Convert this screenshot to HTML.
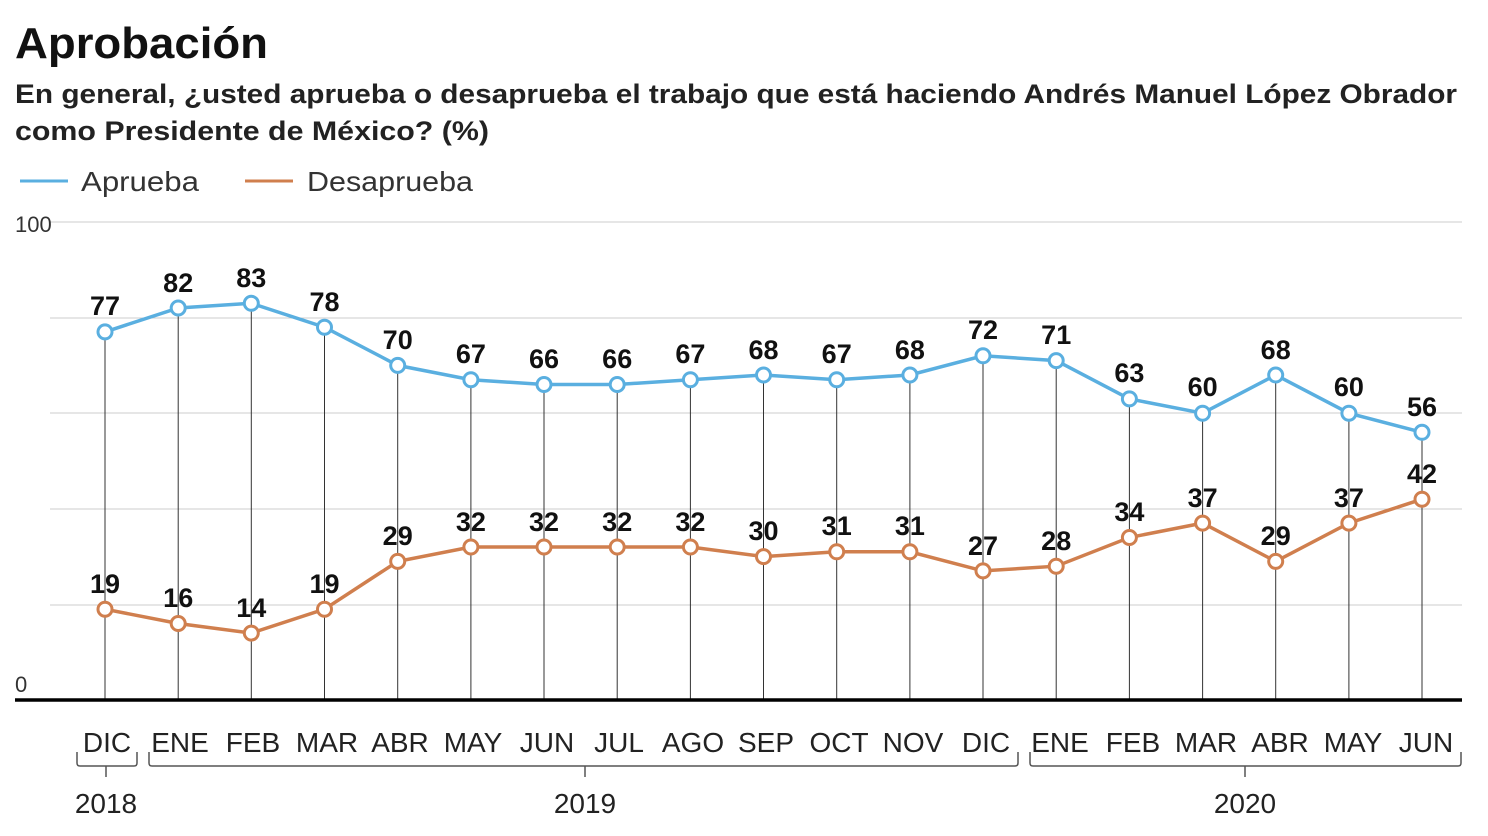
<!DOCTYPE html>
<html><head><meta charset="utf-8"><style>
body{margin:0;background:#fff;}
svg{display:block;font-family:"Liberation Sans",sans-serif;}
</style></head><body>
<svg width="1488" height="836" viewBox="0 0 1488 836">
<text x="15" y="58" font-size="44" font-weight="bold" fill="#111" textLength="253" lengthAdjust="spacingAndGlyphs">Aprobación</text>
<text x="15" y="103" font-size="27" font-weight="bold" fill="#222" textLength="1442" lengthAdjust="spacingAndGlyphs">En general, ¿usted aprueba o desaprueba el trabajo que está haciendo Andrés Manuel López Obrador</text>
<text x="15" y="140" font-size="27" font-weight="bold" fill="#222" textLength="474" lengthAdjust="spacingAndGlyphs">como Presidente de México?  (%)</text>
<line x1="20" y1="181" x2="68" y2="181" stroke="#5aafe0" stroke-width="3"/>
<text x="81" y="191" font-size="28" fill="#333" textLength="118" lengthAdjust="spacingAndGlyphs">Aprueba</text>
<line x1="245" y1="181" x2="293" y2="181" stroke="#d07f4e" stroke-width="3"/>
<text x="307" y="191" font-size="28" fill="#333" textLength="166" lengthAdjust="spacingAndGlyphs">Desaprueba</text>
<g stroke="#ccc" stroke-width="1">
<line x1="50" y1="222" x2="1462" y2="222"/><line x1="50" y1="318" x2="1462" y2="318"/>
<line x1="50" y1="413" x2="1462" y2="413"/><line x1="50" y1="509" x2="1462" y2="509"/>
<line x1="50" y1="605" x2="1462" y2="605"/>
</g>
<text x="15" y="232" font-size="22" fill="#333">100</text>
<text x="15" y="692" font-size="22" fill="#333">0</text>
<g stroke="#333" stroke-width="1">
<line x1="105" y1="332" x2="105" y2="700"/><line x1="178.2" y1="308" x2="178.2" y2="700"/>
<line x1="251.3" y1="303" x2="251.3" y2="700"/><line x1="324.5" y1="327" x2="324.5" y2="700"/>
<line x1="397.7" y1="365" x2="397.7" y2="700"/><line x1="470.9" y1="380" x2="470.9" y2="700"/>
<line x1="544" y1="384" x2="544" y2="700"/><line x1="617.2" y1="384" x2="617.2" y2="700"/>
<line x1="690.4" y1="380" x2="690.4" y2="700"/><line x1="763.5" y1="375" x2="763.5" y2="700"/>
<line x1="836.7" y1="380" x2="836.7" y2="700"/><line x1="909.9" y1="375" x2="909.9" y2="700"/>
<line x1="983" y1="356" x2="983" y2="700"/><line x1="1056.2" y1="361" x2="1056.2" y2="700"/>
<line x1="1129.4" y1="399" x2="1129.4" y2="700"/><line x1="1202.6" y1="413" x2="1202.6" y2="700"/>
<line x1="1275.7" y1="375" x2="1275.7" y2="700"/><line x1="1348.9" y1="413" x2="1348.9" y2="700"/>
<line x1="1422" y1="432" x2="1422" y2="700"/>
</g>
<line x1="15" y1="700" x2="1462" y2="700" stroke="#000" stroke-width="3.5"/>
<polyline fill="none" stroke="#5aafe0" stroke-width="3.5" points="105,331.9 178.2,308 251.3,303.3 324.5,327.2 397.7,365.4 470.9,379.7 544,384.5 617.2,384.5 690.4,379.7 763.5,375 836.7,379.7 909.9,375 983,355.8 1056.2,360.6 1129.4,398.9 1202.6,413.2 1275.7,375 1348.9,413.2 1422,432.3"/>
<polyline fill="none" stroke="#d07f4e" stroke-width="3.5" points="105,609.2 178.2,623.5 251.3,633.1 324.5,609.2 397.7,561.4 470.9,547 544,547 617.2,547 690.4,547 763.5,556.6 836.7,551.8 909.9,551.8 983,570.9 1056.2,566.2 1129.4,537.5 1202.6,523.1 1275.7,561.4 1348.9,523.1 1422,499.2"/>
<g fill="#fff" stroke="#5aafe0" stroke-width="3">
<circle cx="105" cy="331.9" r="7"/><circle cx="178.2" cy="308" r="7"/><circle cx="251.3" cy="303.3" r="7"/><circle cx="324.5" cy="327.2" r="7"/><circle cx="397.7" cy="365.4" r="7"/><circle cx="470.9" cy="379.7" r="7"/><circle cx="544" cy="384.5" r="7"/><circle cx="617.2" cy="384.5" r="7"/><circle cx="690.4" cy="379.7" r="7"/><circle cx="763.5" cy="375" r="7"/><circle cx="836.7" cy="379.7" r="7"/><circle cx="909.9" cy="375" r="7"/><circle cx="983" cy="355.8" r="7"/><circle cx="1056.2" cy="360.6" r="7"/><circle cx="1129.4" cy="398.9" r="7"/><circle cx="1202.6" cy="413.2" r="7"/><circle cx="1275.7" cy="375" r="7"/><circle cx="1348.9" cy="413.2" r="7"/><circle cx="1422" cy="432.3" r="7"/>
</g>
<g fill="#fff" stroke="#d07f4e" stroke-width="3">
<circle cx="105" cy="609.2" r="7"/><circle cx="178.2" cy="623.5" r="7"/><circle cx="251.3" cy="633.1" r="7"/><circle cx="324.5" cy="609.2" r="7"/><circle cx="397.7" cy="561.4" r="7"/><circle cx="470.9" cy="547" r="7"/><circle cx="544" cy="547" r="7"/><circle cx="617.2" cy="547" r="7"/><circle cx="690.4" cy="547" r="7"/><circle cx="763.5" cy="556.6" r="7"/><circle cx="836.7" cy="551.8" r="7"/><circle cx="909.9" cy="551.8" r="7"/><circle cx="983" cy="570.9" r="7"/><circle cx="1056.2" cy="566.2" r="7"/><circle cx="1129.4" cy="537.5" r="7"/><circle cx="1202.6" cy="523.1" r="7"/><circle cx="1275.7" cy="561.4" r="7"/><circle cx="1348.9" cy="523.1" r="7"/><circle cx="1422" cy="499.2" r="7"/>
</g>
<g font-size="27" font-weight="bold" fill="#111" text-anchor="middle">
<text x="105" y="315">77</text><text x="178.2" y="292">82</text><text x="251.3" y="287">83</text><text x="324.5" y="311">78</text><text x="397.7" y="349">70</text><text x="470.9" y="363">67</text><text x="544" y="368">66</text><text x="617.2" y="368">66</text><text x="690.4" y="363">67</text><text x="763.5" y="359">68</text><text x="836.7" y="363">67</text><text x="909.9" y="359">68</text><text x="983" y="339">72</text><text x="1056.2" y="344">71</text><text x="1129.4" y="382">63</text><text x="1202.6" y="396">60</text><text x="1275.7" y="359">68</text><text x="1348.9" y="396">60</text><text x="1422" y="416">56</text>
<text x="105" y="593">19</text><text x="178.2" y="607">16</text><text x="251.3" y="617">14</text><text x="324.5" y="593">19</text><text x="397.7" y="545">29</text><text x="470.9" y="531">32</text><text x="544" y="531">32</text><text x="617.2" y="531">32</text><text x="690.4" y="531">32</text><text x="763.5" y="540">30</text><text x="836.7" y="535">31</text><text x="909.9" y="535">31</text><text x="983" y="555">27</text><text x="1056.2" y="550">28</text><text x="1129.4" y="521">34</text><text x="1202.6" y="507">37</text><text x="1275.7" y="545">29</text><text x="1348.9" y="507">37</text><text x="1422" y="483">42</text>
</g>
<g font-size="28" fill="#222" text-anchor="middle">
<text x="107" y="752">DIC</text><text x="180" y="752">ENE</text><text x="253" y="752">FEB</text><text x="327" y="752">MAR</text><text x="400" y="752">ABR</text><text x="473" y="752">MAY</text><text x="547" y="752">JUN</text><text x="619" y="752">JUL</text><text x="693" y="752">AGO</text><text x="766" y="752">SEP</text><text x="839" y="752">OCT</text><text x="913" y="752">NOV</text><text x="986" y="752">DIC</text><text x="1060" y="752">ENE</text><text x="1133" y="752">FEB</text><text x="1206" y="752">MAR</text><text x="1280" y="752">ABR</text><text x="1353" y="752">MAY</text><text x="1426" y="752">JUN</text>
<text x="106" y="813">2018</text><text x="585" y="813">2019</text><text x="1245" y="813">2020</text>
</g>
<g fill="none" stroke="#555" stroke-width="1.5">
<path d="M77,752 v11 q0,3 3,3 h54 q3,0 3,-3 v-11"/><line x1="106" y1="766" x2="106" y2="777"/>
<path d="M149,752 v11 q0,3 3,3 h863 q3,0 3,-3 v-11"/><line x1="585" y1="766" x2="585" y2="777"/>
<path d="M1030,752 v11 q0,3 3,3 h425 q3,0 3,-3 v-11"/><line x1="1245" y1="766" x2="1245" y2="777"/>
</g>
</svg>
</body></html>
